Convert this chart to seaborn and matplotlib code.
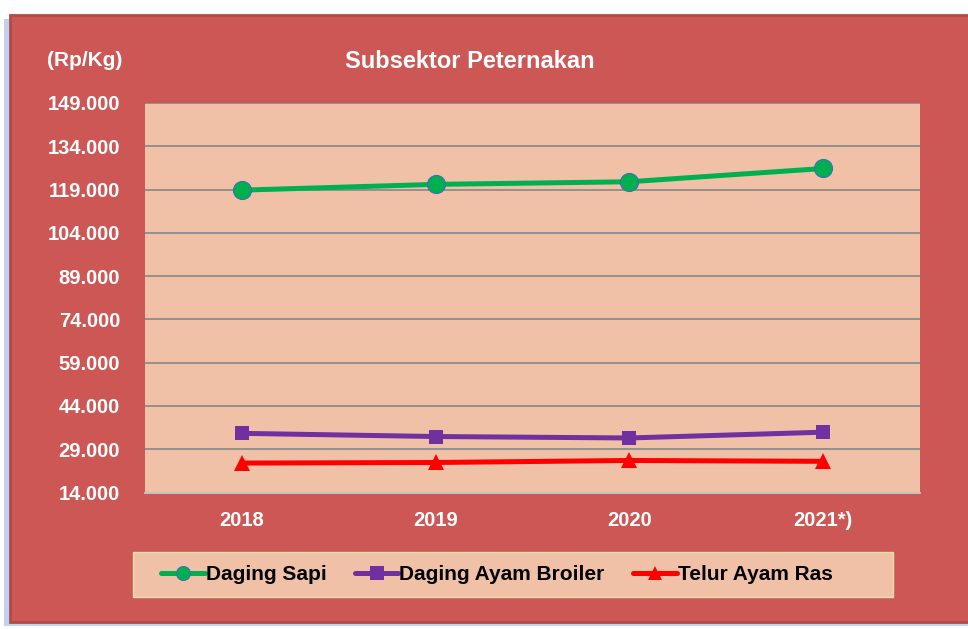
import numpy as np
import pandas as pd
import matplotlib
matplotlib.use("Agg")
import matplotlib.pyplot as plt
from matplotlib.patches import FancyBboxPatch
from matplotlib.ticker import FuncFormatter
import seaborn as sns

# Data
tahun = ['2018', '2019', '2020', '2021*)']
daging_sapi = [118800, 120800, 121700, 126300]
daging_ayam_broiler = [34500, 33400, 32900, 34900]
telur_ayam_ras = [24200, 24400, 25100, 24800]
komoditas = ['Daging Sapi', 'Daging Ayam Broiler', 'Telur Ayam Ras']
y_ticks = np.arange(14000, 149001, 15000)

df = pd.DataFrame({
    'tahun': tahun * 3,
    'harga': daging_sapi + daging_ayam_broiler + telur_ayam_ras,
    'komoditas': np.repeat(komoditas, len(tahun)),
})

sns.set_style("white")
plt.rcParams['font.family'] = ['Liberation Sans', 'DejaVu Sans']

frame_color = '#CD5755'
plot_bg = '#F0C1A6'
colors = {'Daging Sapi': '#00B050', 'Daging Ayam Broiler': '#7030A0', 'Telur Ayam Ras': '#FF0000'}
markers = {'Daging Sapi': 'o', 'Daging Ayam Broiler': 's', 'Telur Ayam Ras': '^'}
msizes = {'Daging Sapi': 13, 'Daging Ayam Broiler': 10, 'Telur Ayam Ras': 12}

fig = plt.figure(figsize=(9.68, 6.29), dpi=100)
W, H = 968, 629

# red frame behind everything
fig.patches.append(FancyBboxPatch((10 / W, (H - 622) / H), 970 / W, 607 / H,
                                  boxstyle="square,pad=0", transform=fig.transFigure,
                                  facecolor=frame_color, edgecolor='#B14A48', linewidth=2, zorder=-5))
fig.patches.append(FancyBboxPatch((4 / W, (H - 626) / H), 970 / W, 607 / H,
                                  boxstyle="square,pad=0", transform=fig.transFigure,
                                  facecolor='#BFD3EE', edgecolor='none', zorder=-6))
# legend box
fig.patches.append(FancyBboxPatch((133 / W, (H - 597) / H), 760 / W, 45 / H,
                                  boxstyle="square,pad=0", transform=fig.transFigure,
                                  facecolor=plot_bg, edgecolor='#E6E0A8', linewidth=1, zorder=-4))

ax = fig.add_axes([145 / W, 1 - 492.5 / H, 775 / W, 389.5 / H])
ax.set_facecolor(plot_bg)

for name in komoditas:
    sub = df[df['komoditas'] == name]
    sns.lineplot(data=sub, x='tahun', y='harga', ax=ax, color=colors[name],
                 marker=markers[name], markersize=msizes[name], linewidth=3.6,
                 markeredgecolor='#3A6FB5' if name == 'Daging Sapi' else colors[name],
                 markeredgewidth=0.8 if name == 'Daging Sapi' else 0,
                 label=name, sort=False, zorder=3)

ax.set_xlim(-0.5, 3.5)
ax.set_ylim(14000, 149000)
ax.set_yticks(y_ticks)
ax.yaxis.set_major_formatter(FuncFormatter(lambda v, p: f"{int(v):,}".replace(',', '.')))
ax.grid(axis='y', color='#8C8C8C', linewidth=1.3)
ax.set_axisbelow(True)
for s in ['left', 'right', 'top']:
    ax.spines[s].set_visible(False)
ax.spines['bottom'].set_color('#C8C8C8')
ax.spines['bottom'].set_linewidth(1.3)
ax.tick_params(axis='both', length=0, colors='white', labelsize=14.5)
ax.tick_params(axis='y', pad=18)
ax.tick_params(axis='x', pad=13)
for lbl in ax.get_xticklabels() + ax.get_yticklabels():
    lbl.set_fontweight('bold')
ax.set_xlabel('')
ax.set_ylabel('')

fig.text(85 / W, 1 - 60 / H, '(Rp/Kg)', color='white', fontsize=15, fontweight='bold',
         ha='center', va='center')
fig.text(470 / W, 1 - 62 / H, 'Subsektor Peternakan', color='white', fontsize=17,
         fontweight='bold', ha='center', va='center')

handles, labels = ax.get_legend_handles_labels()
if ax.legend_:
    ax.legend_.remove()
leg = fig.legend(handles, labels, loc='center left', ncol=3,
                 bbox_to_anchor=(161 / W, 1 - 574.5 / H),
                 frameon=False, handlelength=2.1, labelcolor='black',
                 handletextpad=0.05, columnspacing=1.35, borderpad=0,
                 borderaxespad=0, prop={'weight': 'bold', 'size': 15})
for h in leg.legend_handles:
    h.set_markersize(10)

fig.savefig('out.png', dpi=100, facecolor='white')
